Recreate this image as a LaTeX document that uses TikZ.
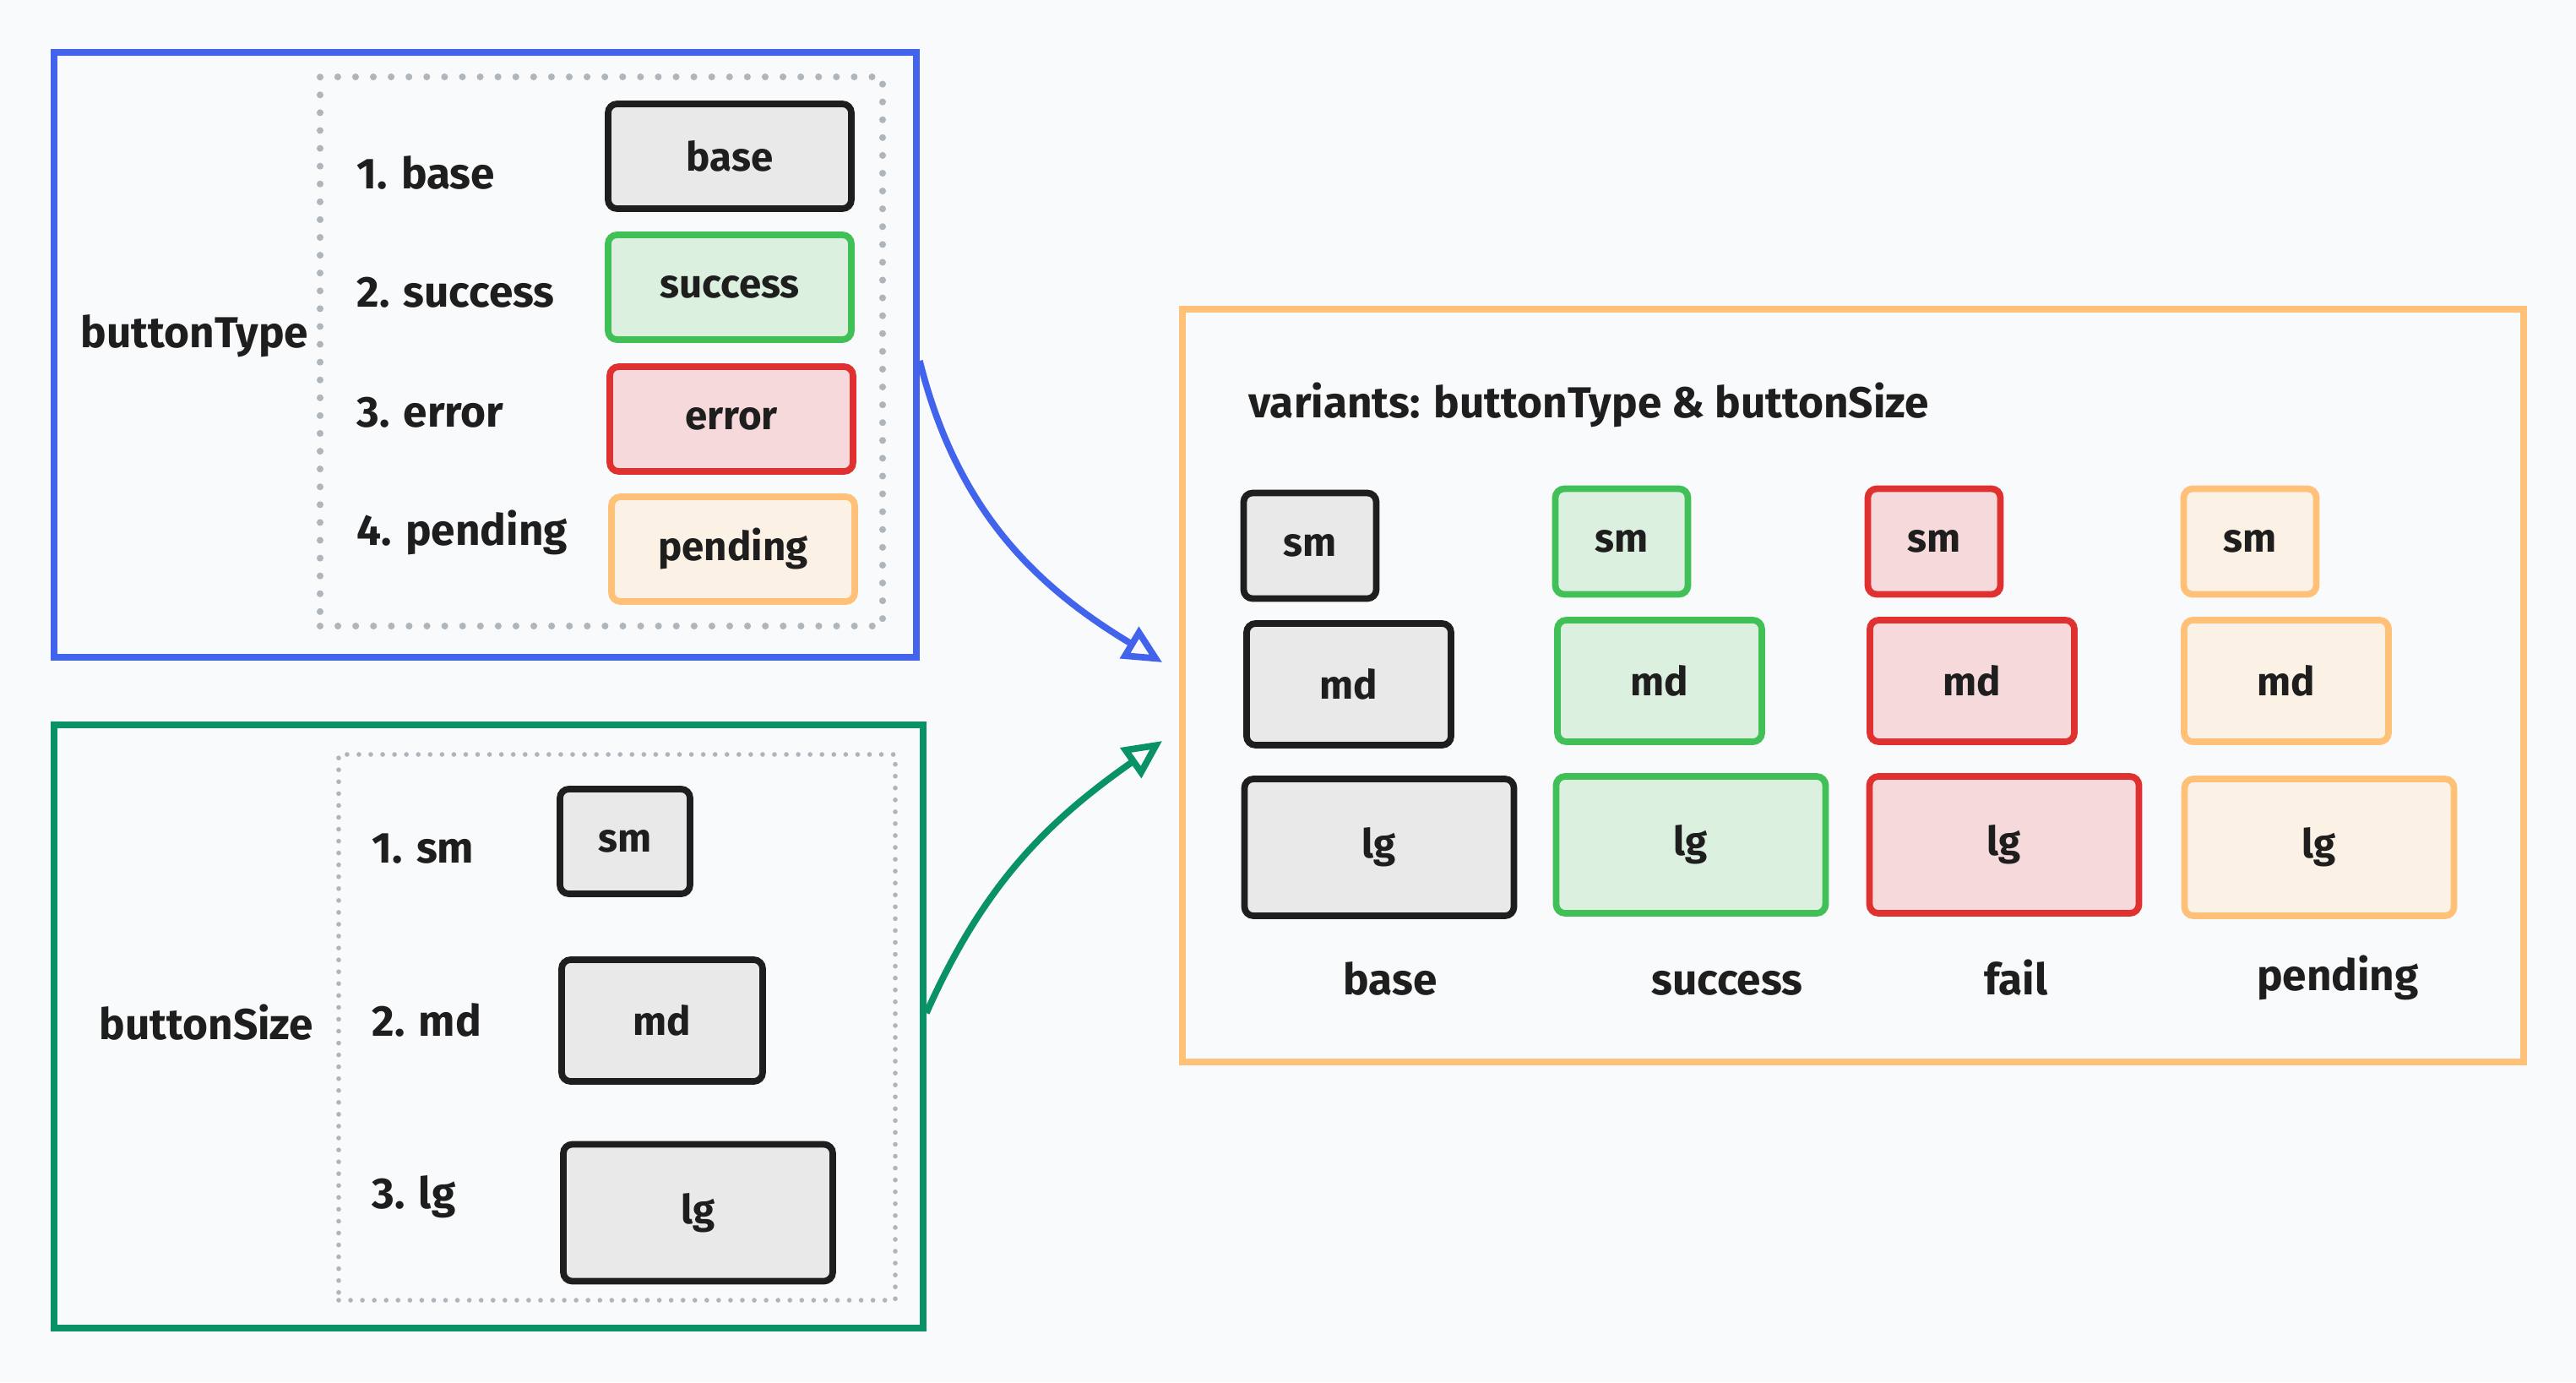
\documentclass[tikz,border=0pt]{standalone}
\usepackage{fontspec}
\setmainfont{Fira Sans}
\usetikzlibrary{arrows.meta, positioning}
\definecolor{canvas}{RGB}{249,250,251}
\definecolor{typeline}{RGB}{66,99,235}
\definecolor{sizeline}{RGB}{9,146,104}
\definecolor{inkblack}{RGB}{30,30,30}
\definecolor{okline}{RGB}{64,192,87}
\definecolor{errline}{RGB}{224,49,49}
\definecolor{pendline}{RGB}{255,192,120}
\definecolor{basefill}{RGB}{233,233,233}
\definecolor{okfill}{RGB}{220,240,224}
\definecolor{errfill}{RGB}{246,217,219}
\definecolor{pendfill}{RGB}{251,241,229}
\definecolor{dotgray}{RGB}{173,181,189}

\tikzset{
    panel/.style={draw, line width=2.2pt, inner sep=0pt},
    dotbox/.style={draw=dotgray, line width=2.3pt, line cap=round, dash pattern=on 0pt off 6pt, inner sep=0pt},
    btn/.style={draw, rounded corners=3pt, line width=2.2pt, text=inkblack, inner sep=0pt,
        font=\bfseries\fontsize{13.5}{16}\selectfont},
    btn-base/.style={btn, draw=inkblack, fill=basefill},
    btn-ok/.style={btn, draw=okline, fill=okfill},
    btn-err/.style={btn, draw=errline, fill=errfill},
    btn-pend/.style={btn, draw=pendline, fill=pendfill},
    sm/.style={minimum width=1.57cm, minimum height=1.25cm},
    md/.style={minimum width=2.42cm, minimum height=1.44cm},
    lg/.style={minimum width=3.19cm, minimum height=1.62cm},
    wide/.style={minimum width=2.88cm, minimum height=1.24cm},
    lbl/.style={font=\bfseries\fontsize{14.6}{17}\selectfont, text=inkblack, inner sep=0pt, anchor=base west},
    flow/.style={line width=2.2pt, line join=round, -{Triangle[open, length=13pt, width=12pt]}}
}

\begin{document}
\begin{tikzpicture}
    \path[use as bounding box, fill=canvas] (0,0) rectangle (30.5,-16.36);

    % buttonType panel
    \node[panel, draw=typeline, minimum width=10.21cm, minimum height=7.16cm] (typebox) at (5.745,-4.20) {};
    \node[dotbox, minimum width=6.66cm, minimum height=6.50cm] (typelist) at (7.12,-4.16) {};
    \node[lbl] (typelabel) at (0.95,-4.11) {buttonType};
    \node[lbl] (typeitem1) at (4.22,-2.23) {1. base};
    \node[lbl] (typeitem2) at (4.22,-3.63) {2. success};
    \node[lbl] (typeitem3) at (4.22,-5.05) {3. error};
    \node[lbl] (typeitem4) at (4.22,-6.45) {4. pending};
    \node[btn-base, wide] (typebase) at (8.64,-1.85) {base};
    \node[btn-ok, wide] (typeok) at (8.64,-3.40) {success};
    \node[btn-err, wide] (typeerr) at (8.66,-4.96) {error};
    \node[btn-pend, wide] (typepend) at (8.68,-6.50) {pending};

    % buttonSize panel
    \node[panel, draw=sizeline, minimum width=10.29cm, minimum height=7.14cm] (sizebox) at (5.785,-12.15) {};
    \node[dotbox, line width=1.6pt, dash pattern=on 0pt off 4pt, minimum width=6.59cm, minimum height=6.46cm] (sizelist) at (7.305,-12.16) {};
    \node[lbl] (sizelabel) at (1.17,-12.30) {buttonSize};
    \node[lbl] (sizeitem1) at (4.40,-10.21) {1. sm};
    \node[lbl] (sizeitem2) at (4.40,-12.26) {2. md};
    \node[lbl] (sizeitem3) at (4.40,-14.30) {3. lg};
    \node[btn-base, sm, minimum width=1.54cm, minimum height=1.24cm] (sizesm) at (7.40,-9.96) {sm};
    \node[btn-base, md, minimum width=2.38cm] (sizemd) at (7.84,-12.08) {md};
    \node[btn-base, lg] (sizelg) at (8.265,-14.355) {lg};

    % variants panel
    \node[panel, draw=pendline, minimum width=15.88cm, minimum height=8.91cm] (variants) at (21.94,-8.115) {};
    \node[lbl] (vartitle) at (14.78,-4.94) {variants: buttonType \& buttonSize};

    \node[btn-base, sm] (base-sm) at (15.51,-6.46) {sm};
    \node[btn-base, md] (base-md) at (15.97,-8.10) {md};
    \node[btn-base, lg] (base-lg) at (16.33,-10.03) {lg};
    \node[btn-ok, sm] (ok-sm) at (19.20,-6.41) {sm};
    \node[btn-ok, md] (ok-md) at (19.65,-8.06) {md};
    \node[btn-ok, lg] (ok-lg) at (20.02,-10.00) {lg};
    \node[btn-err, sm] (err-sm) at (22.90,-6.41) {sm};
    \node[btn-err, md] (err-md) at (23.35,-8.06) {md};
    \node[btn-err, lg] (err-lg) at (23.73,-10.00) {lg};
    \node[btn-pend, sm] (pend-sm) at (26.64,-6.41) {sm};
    \node[btn-pend, md] (pend-md) at (27.07,-8.06) {md};
    \node[btn-pend, lg] (pend-lg) at (27.46,-10.03) {lg};

    \node[lbl, anchor=base] (col-base) at (16.46,-11.77) {base};
    \node[lbl, anchor=base] (col-ok) at (20.45,-11.77) {success};
    \node[lbl, anchor=base] (col-err) at (23.87,-11.77) {fail};
    \node[lbl, anchor=base] (col-pend) at (27.68,-11.72) {pending};

    % connectors
    \coordinate (typein) at ([xshift=-0.2cm, yshift=0.275cm]variants.west);
    \coordinate (sizein) at ([xshift=-0.2cm, yshift=-0.655cm]variants.west);
    \draw[flow, typeline] ([yshift=-0.07cm]typebox.east) to[out=-76, in=149] (typein);
    \draw[flow, sizeline] ([yshift=0.16cm]sizebox.east) to[out=66, in=-145] (sizein);
\end{tikzpicture}
\end{document}
